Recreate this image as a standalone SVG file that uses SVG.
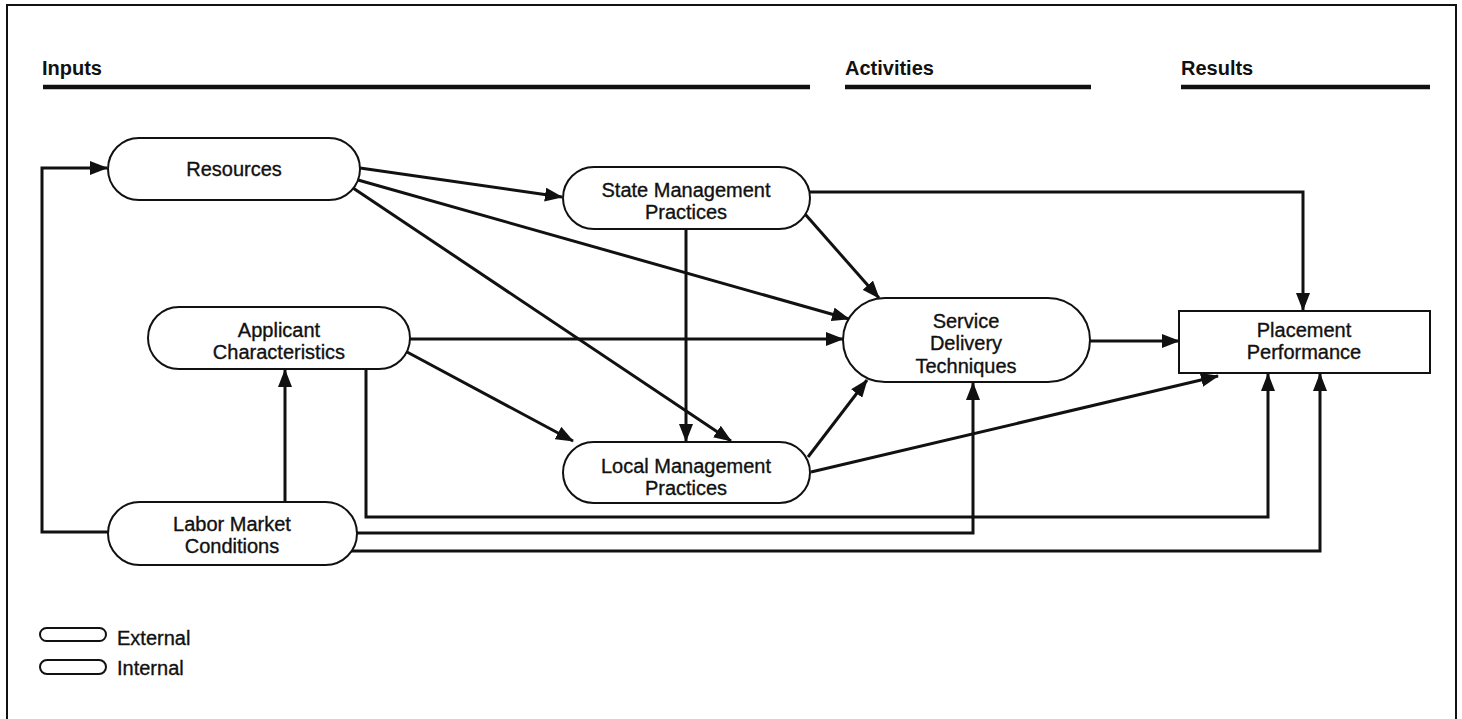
<svg xmlns="http://www.w3.org/2000/svg" width="1462" height="719" viewBox="0 0 1462 719">
<style>
  .frame{fill:none;stroke:#111;stroke-width:2}
  .hdr{font-family:"Liberation Sans",Arial,sans-serif;font-weight:bold;font-size:20px;fill:#111}
  .rule{stroke:#111;stroke-width:4.5}
  .node{fill:#fff;stroke:#111;stroke-width:2}
  .lbl{font-family:"Liberation Sans",Arial,sans-serif;font-size:20px;fill:#111;stroke:#111;stroke-width:0.35;text-anchor:middle}
  .leg{font-family:"Liberation Sans",Arial,sans-serif;font-size:20px;fill:#111;stroke:#111;stroke-width:0.35}
  .conn path{fill:none;stroke:#111;stroke-width:3;marker-end:url(#arr)}
</style>
<defs>
  <marker id="arr" viewBox="0 0 18 14" refX="17" refY="7" markerWidth="18" markerHeight="14" markerUnits="userSpaceOnUse" orient="auto">
    <path d="M0,0 L18,7 L0,14 z" fill="#111"/>
  </marker>
</defs>
<rect width="1462" height="719" fill="#fff"/>
<rect class="frame" x="7" y="5" width="1449" height="740"/>

<g id="headers">
  <text class="hdr" x="42" y="75">Inputs</text>
  <line class="rule" x1="43" y1="87" x2="810" y2="87"/>
  <text class="hdr" x="845" y="75">Activities</text>
  <line class="rule" x1="845" y1="87" x2="1091" y2="87"/>
  <text class="hdr" x="1181" y="75">Results</text>
  <line class="rule" x1="1181" y1="87" x2="1430" y2="87"/>
</g>

<g id="connectors" class="conn">
  <path d="M108,532 H42 V168 H107"/>
  <path d="M285,502 V370"/>
  <path d="M366,369 V517 H1268 V374"/>
  <path d="M356,533 H973 V383"/>
  <path d="M351,551 H1320 V374"/>
  <path d="M360,168 L562,197"/>
  <path d="M358,180 L849,319"/>
  <path d="M353,188 L731,441"/>
  <path d="M686,229 V441"/>
  <path d="M810,192 H1303 V310"/>
  <path d="M805,214 L879,298"/>
  <path d="M410,339 H843"/>
  <path d="M407,352 L573,441"/>
  <path d="M808,457 L867,380"/>
  <path d="M811,472 L1218,376"/>
  <path d="M1090,341 H1179"/>
</g>

<g id="resources">
  <rect class="node" x="108" y="138" width="252" height="62" rx="31"/>
  <text class="lbl" x="234" y="176">Resources</text>
</g>
<g id="state-mgmt">
  <rect class="node" x="563" y="167" width="247" height="62" rx="31"/>
  <text class="lbl" x="686" y="197">State Management</text>
  <text class="lbl" x="686" y="219">Practices</text>
</g>
<g id="applicant">
  <rect class="node" x="148" y="307" width="262" height="62" rx="31"/>
  <text class="lbl" x="279" y="337">Applicant</text>
  <text class="lbl" x="279" y="359">Characteristics</text>
</g>
<g id="service">
  <rect class="node" x="843" y="298" width="247" height="84" rx="42"/>
  <text class="lbl" x="966" y="328">Service</text>
  <text class="lbl" x="966" y="350">Delivery</text>
  <text class="lbl" x="966" y="373">Techniques</text>
</g>
<g id="placement">
  <rect class="node" x="1179" y="311" width="251" height="62"/>
  <text class="lbl" x="1304" y="337">Placement</text>
  <text class="lbl" x="1304" y="359">Performance</text>
</g>
<g id="local-mgmt">
  <rect class="node" x="563" y="442" width="247" height="61" rx="30.5"/>
  <text class="lbl" x="686" y="473">Local Management</text>
  <text class="lbl" x="686" y="495">Practices</text>
</g>
<g id="labor">
  <rect class="node" x="108" y="502" width="249" height="63" rx="31.5"/>
  <text class="lbl" x="232" y="531">Labor Market</text>
  <text class="lbl" x="232" y="553">Conditions</text>
</g>

<g id="legend">
  <rect class="node" x="40" y="628" width="66" height="13" rx="6.5"/>
  <text class="leg" x="117" y="645">External</text>
  <rect class="node" x="40" y="660" width="66" height="14" rx="7"/>
  <text class="leg" x="117" y="675">Internal</text>
</g>
</svg>
